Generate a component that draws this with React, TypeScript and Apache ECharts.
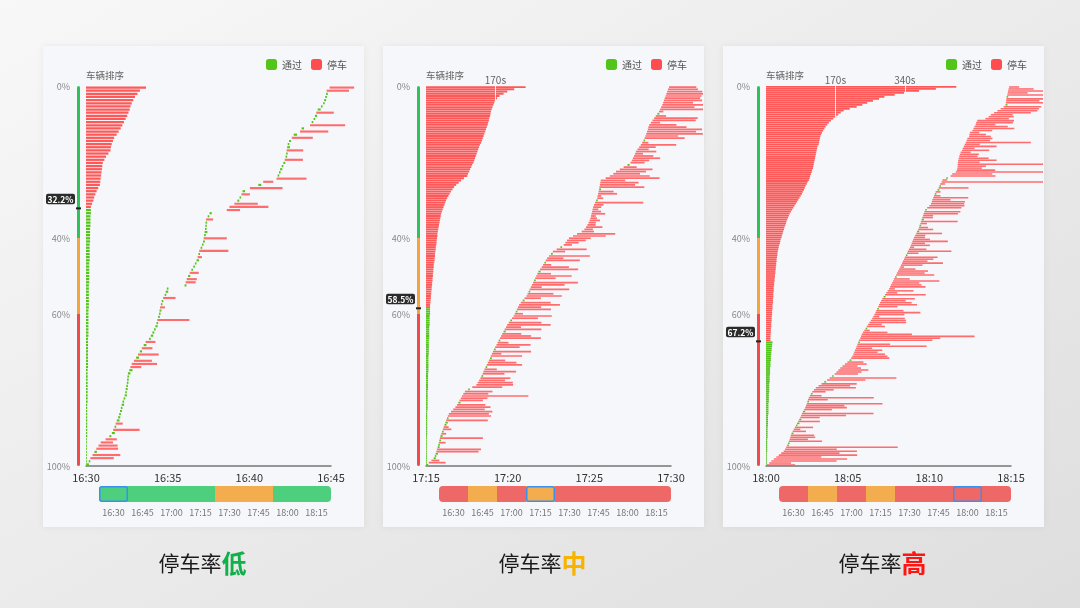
import React, { useEffect, useRef } from "react";
import * as echarts from "echarts";

const GREEN = "#52c41a";
const RED = "#ff4d4f";
const LEFT_RED = "#ff5858";
const LEVEL_COLORS = ["#4dcf7e", "#f3ad4e", "#ef6868"];
const SCALE_COLORS = ["#2fc25b", "#f5a33b", "#f04a4a"];
const FONT = '"Noto Sans CJK SC", "Noto Sans", sans-serif';

const slotLabels = ["16:30", "16:45", "17:00", "17:15", "17:30", "17:45", "18:00", "18:15"];
const pctTicks = [0, 40, 60, 100];
const scaleBands = [[0, 40], [40, 60], [60, 100]];
const titleWords = ["低", "中", "高"];
const titleColors = ["#10b04a", "#f6b400", "#ff1414"];
const rateValues = [32.2, 58.5, 67.2];
const rateLabels = ["32.2%", "58.5%", "67.2%"];

// ---------- Panel 1 (low) ----------
const p1Ticks = ["16:30", "16:35", "16:40", "16:45"];
const p1Arrive = [3,10,16,24,31,38,46,54,72,86,
  95,100,105,109,113,118,122,125,128,131,
  134,138,142,144,146,148,150,151,152,154,
  159,163,168,176,184,191,198,205,212,219,
  232,238,244,250,255,259,262,265,268,270,
  272,275,278,283,289,293,297,
  362,366,370,375,381,387,394,400,406,410,
  413,416,421,426,430,432,434,436,437,438,
  439,441,447,454,
  517,527,545,556,564,571,575,602,633,651,
  700,704,709,713,719,725,730,733,735,737,
  739,741,746,756,763,786,792,823,829,836,
  841,846,851,863,871,875,879,882,884,895];
const p1Delay = [8,5,86,102,9,80,70,45,41,7,
  11,97,6,26,10,8,5,7,4,9,
  6,3,8,5,7,4,6,3,5,9,
  12,40,93,66,11,76,8,39,10,36,
  6,9,7,5,8,4,118,6,3,7,
  18,5,6,46,4,9,5,
  7,37,37,8,33,6,4,5,9,16,
  3,107,6,4,7,85,5,10,3,4,
  6,26,5,8,
  49,143,86,7,5,31,9,120,11,37,
  110,6,4,8,5,7,67,3,6,61,
  10,4,7,77,12,104,9,129,5,6,
  8,64,11,5,4,7,3,6,82,90];
const p1Stop = [0,0,1,1,0,1,1,1,1,0,
  0,1,0,1,0,0,0,0,0,0,
  0,0,0,0,0,0,0,0,0,0,
  0,1,1,1,0,1,0,1,0,1,
  0,0,0,0,0,0,1,0,0,0,
  1,0,0,1,0,0,0,
  0,1,1,0,1,0,0,0,0,1,
  0,1,0,0,0,1,0,0,0,0,
  0,1,0,0,
  1,1,1,0,0,1,0,1,0,1,
  1,0,0,0,0,0,1,0,0,1,
  0,0,0,1,0,1,0,1,0,0,
  0,1,0,0,0,0,0,0,1,1];
const p1LeftStop = [147,132,126,120,116,112,109,107,104,101,
  97,93,89,85,80,75,69,66,63,61,
  60,55,49,45,41,40,39,38,37,36,
  35,34,30,26,23,20,18,15,12];
const p1LeftPass = [12,12,11,11,11,11,10,10,10,10,
  10,9,9,9,9,9,9,8,8,8,
  8,8,8,8,7,7,7,7,7,7,
  7,7,6,6,6,6,6,6,6,6,
  6,5,5,5,5,5,5,5,5,5,
  5,4,4,4,4,4,4,4,4,4,
  4,4,3,3,3,3,3,3,3,3,
  3,3,3,2,2,2,2,2,2,2,
  2,2];
const p1Marks: number[] = [];
const p1Levels = [0, 0, 0, 0, 1, 1, 0, 0];
const p1Window = 0;

// ---------- Panel 2 (mid) ----------
const p2Ticks = ["17:15", "17:20", "17:25", "17:30"];
const p2Arrive = [2,10,20,28,32,35,38,40,43,45,
  47,49,51,53,56,59,62,65,68,71,
  74,77,80,84,92,100,108,114,119,123,
  128,132,137,143,155,170,185,190,195,200,
  204,208,211,215,219,223,227,231,235,238,
  242,246,250,254,259,263,267,272,276,280,
  285,289,294,298,304,310,316,322,326,330,
  334,338,342,348,355,362,369,373,377,381,
  385,389,393,397,401,405,409,413,419,425,
  430,435,440,445,452,459,466,480,494,506,
  512,518,525,540,555,572,582,588,593,597,
  601,604,606,608,610,612,614,617,621,625,
  629,630,632,634,636,637,639,640,642,660,
  675,688,698,712,726,740,751,756,760,764,
  768,771,777,783,789,794,799,803,806,809,
  812,815,817,820,826,832,838,844,850,856,
  860,864,868,871,874,877,880,883,886,889,
  893];
const p2Delay = [6,62,29,8,5,9,155,162,7,4,
  25,6,158,8,18,5,31,18,7,9,
  153,6,159,147,152,116,129,104,8,86,
  98,244,92,101,5,110,135,129,95,110,
  6,80,120,45,5,130,105,60,7,115,
  35,140,6,90,125,40,5,150,110,70,
  8,135,55,160,120,6,95,140,30,5,
  125,85,150,110,7,60,130,95,4,145,
  40,120,165,6,75,130,50,8,140,100,
  30,5,125,60,150,7,45,110,6,30,
  49,69,80,120,140,45,31,60,30,27,
  38,24,18,50,33,21,30,35,177,6,
  22,14,70,55,7,165,129,141,90,198,
  147,98,110,120,48,8,52,64,100,71,
  29,75,41,61,130,23,6,147,120,208,
  180,199,140,100,34,159,160,38,7,16,
  159,122,150,110,140,130,132,150,129,110,
  100];
const p2Stop = [0,1,1,0,0,0,1,1,0,0,
  1,0,1,0,1,0,1,1,0,0,
  1,0,1,1,1,1,1,1,0,1,
  1,1,1,1,0,1,1,1,1,1,
  0,1,1,1,0,1,1,1,0,1,
  1,1,0,1,1,1,0,1,1,1,
  0,1,1,1,1,0,1,1,1,0,
  1,1,1,1,0,1,1,1,0,1,
  1,1,1,0,1,1,1,0,1,1,
  1,0,1,1,1,0,1,1,0,1,
  1,1,1,1,1,1,1,1,1,1,
  1,1,1,1,1,1,1,1,1,0,
  1,1,1,1,0,1,1,1,1,1,
  1,1,1,1,1,0,1,1,1,1,
  1,1,1,1,1,1,0,1,1,1,
  1,1,1,1,1,1,1,1,0,1,
  1,1,1,1,1,1,1,1,1,1,
  1];
const p2LeftStop = [244,216,199,190,180,174,170,167,165,163,
  161,159,158,157,155,154,152,151,149,147,
  145,143,141,139,137,135,132,130,128,126,
  124,122,120,118,116,113,111,108,106,103,
  101,93,86,80,74,69,65,61,58,55,
  52,49,47,45,43,41,39,37,36,35,
  34,33,32,31,30,29,28,28,27,26,
  26,25,24,24,23,22,22,21,21,20,
  19,19,18,18,17,17,16,16,15,15,
  14,14,13,13,12,12,11,11,10,10];
const p2LeftPass = [10,10,10,9,9,9,9,9,8,8,
  8,8,8,8,7,7,7,7,7,7,
  7,6,6,6,6,6,6,6,6,5,
  5,5,5,5,5,5,5,4,4,4,
  4,4,4,4,4,4,3,3,3,3,
  3,3,3,3,3,3,3,2,2,2,
  2,2,2,2,2,2,2,2,2,1,
  1];
const p2Marks = [170];
const p2Levels = [2, 1, 2, 1, 2, 2, 2, 2];
const p2Window = 3;

// ---------- Panel 3 (high) ----------
const p3Ticks = ["18:00", "18:05", "18:10", "18:15"];
const p3Arrive = [3,12,20,29,38,47,56,65,70,74,
  78,81,84,87,89,91,94,98,102,106,
  110,114,118,122,126,129,132,136,140,144,
  147,150,152,154,157,161,165,170,176,183,
  193,204,214,224,234,243,252,259,266,273,
  281,290,299,307,313,317,321,324,327,330,
  333,336,339,342,346,349,352,356,361,366,
  370,375,380,385,390,394,398,402,405,409,
  412,415,419,423,427,432,437,442,447,452,
  456,459,463,467,470,474,478,481,485,489,
  493,496,500,503,507,510,514,518,521,525,
  529,532,535,538,541,544,548,552,555,559,
  562,564,567,569,572,574,577,579,582,585,
  592,600,606,609,611,614,617,620,623,630,
  634,637,640,645,648,662,678,684,697,701,
  703,704,704,705,706,708,710,712,715,720,
  723,727,730,734,737,740,746,747,749,758,
  762,766,770,772,776,806,818,826,838,850,
  862,873,880,881,882,883,884,886,888,889,
  891,893];
const p3Delay = [104,80,239,269,165,288,214,269,190,410,
  6,5,122,67,92,86,7,49,24,67,
  5,9,80,8,71,165,263,8,102,153,
  141,278,6,73,239,43,6,49,73,147,
  116,129,7,141,245,5,86,92,110,76,
  55,80,59,7,140,129,116,86,100,60,
  257,120,5,269,294,417,184,90,20,6,
  67,50,135,129,120,22,110,165,100,5,
  71,140,116,90,120,7,150,40,95,21,
  130,112,100,170,58,6,140,102,110,60,
  14,79,150,90,108,120,5,42,160,64,
  15,70,49,130,61,40,37,95,8,55,
  33,6,24,135,8,39,37,126,132,5,
  126,129,122,122,67,129,24,6,18,7,
  110,5,18,400,18,6,165,147,340,141,
  90,104,340,80,141,110,67,70,37,100,
  43,120,55,239,86,92,80,61,34,73,
  150,122,73,135,135,86,92,80,135,147,
  141,138,7,160,122,170,4,150,73,140,
  92,37];
const p3Stop = [1,1,1,1,1,1,1,1,1,1,
  0,0,1,1,1,1,0,1,1,1,
  0,0,1,0,1,1,1,0,1,1,
  1,1,0,1,1,1,0,1,1,1,
  1,1,0,1,1,0,1,1,1,1,
  1,1,1,0,1,1,1,1,1,1,
  1,1,0,1,1,1,1,1,1,0,
  1,1,1,1,1,1,1,1,1,0,
  1,1,1,1,1,0,1,1,1,1,
  1,1,1,1,1,0,1,1,1,1,
  1,1,1,1,1,1,0,1,1,1,
  1,1,1,1,1,1,1,1,0,1,
  1,0,1,1,0,1,1,1,1,0,
  1,1,1,1,1,1,1,0,1,0,
  1,0,1,1,1,0,1,1,1,1,
  1,1,1,1,1,1,1,1,1,1,
  1,1,1,1,1,1,1,1,1,1,
  1,1,1,1,1,1,1,1,1,1,
  1,1,0,1,1,1,0,1,1,1,
  1,1];
const p3LeftStop = [466,416,375,338,315,290,277,262,248,236,
  222,205,190,183,177,172,165,159,154,150,
  146,143,140,137,135,133,132,131,130,129,
  126,125,124,123,122,121,120,119,118,117,
  116,115,113,112,110,108,107,105,102,100,
  97,95,93,90,88,85,82,79,76,73,
  70,67,64,61,58,56,54,52,50,49,
  47,45,44,42,41,39,38,36,35,34,
  32,31,30,29,28,28,27,26,26,25,
  25,24,24,23,23,22,22,21,21,20,
  20,19,19,19,18,18,18,17,17,17,
  16,16,16,15,15,15,14,14,14,13,
  13,13,12,12,12,11,11,11,11];
const p3LeftPass = [16,15,15,14,14,13,13,12,12,12,
  11,11,11,10,10,10,10,9,9,9,
  9,8,8,8,8,8,7,7,7,7,
  7,6,6,6,6,6,6,5,5,5,
  5,5,5,4,4,4,4,4,4,3,
  3,3,3,3,3,3,2,2,2,2,
  2,2,2];
const p3Marks = [170, 340];
const p3Levels = [2, 1, 2, 1, 2, 2, 2, 2];
const p3Window = 6;

const panels = [
  { ticks: p1Ticks, arrive: p1Arrive, delay: p1Delay, stop: p1Stop, left: p1LeftStop, pass: p1LeftPass, marks: p1Marks, levels: p1Levels, win: p1Window },
  { ticks: p2Ticks, arrive: p2Arrive, delay: p2Delay, stop: p2Stop, left: p2LeftStop, pass: p2LeftPass, marks: p2Marks, levels: p2Levels, win: p2Window },
  { ticks: p3Ticks, arrive: p3Arrive, delay: p3Delay, stop: p3Stop, left: p3LeftStop, pass: p3LeftPass, marks: p3Marks, levels: p3Levels, win: p3Window },
];

function barRender(color: string, opacity: number, clipRight: number, hFrac: number, minW: number) {
  return (params: any, api: any) => {
    const a = api.value(0), b = api.value(1), y = api.value(2), band = api.value(3);
    const p0 = api.coord([a, y]);
    const p1 = api.coord([b, y]);
    const h = Math.abs(api.size([0, band])[1]) * hFrac;
    const x1 = Math.min(p1[0], clipRight);
    const w = Math.max(x1 - p0[0], minW);
    return {
      type: "rect",
      shape: { x: p0[0], y: p0[1] - h / 2, width: w, height: h },
      style: { fill: color, opacity },
    };
  };
}

function buildOption() {
  const grid: any[] = [], xAxis: any[] = [], yAxis: any[] = [], series: any[] = [], legend: any[] = [];
  const graphic: any[] = [
    {
      type: "rect", z: -20, silent: true,
      shape: { x: 0, y: 0, width: 1080, height: 608 },
      style: { fill: new echarts.graphic.LinearGradient(0, 0, 1, 1, [
        { offset: 0, color: "#f8f8f8" }, { offset: 1, color: "#dedede" }]) },
    },
  ];

  panels.forEach((p, k) => {
    const ox = k * 340;
    const cardRight = 43 + ox + 321;
    graphic.push({
      type: "rect", z: -10, silent: true,
      shape: { x: 43 + ox, y: 46, width: 321, height: 481 },
      style: { fill: "#f6f7fa", shadowBlur: 6, shadowColor: "rgba(0,0,0,0.06)" },
    });
    graphic.push({
      type: "text", z: 10, silent: true, x: 86 + ox, y: 74.5,
      style: { text: "车辆排序", fill: "#666", fontSize: 9.5, fontFamily: FONT, verticalAlign: "middle", align: "left" },
    });
    graphic.push({
      type: "text", z: 10, silent: true, x: 202.5 + ox, y: 562,
      style: {
        text: `{a|停车率}{b|${titleWords[k]}}`,
        align: "center", verticalAlign: "middle",
        rich: {
          a: { fontSize: 21, fill: "#1a1a1a", color: "#1a1a1a", fontFamily: FONT },
          b: { fontSize: 25, fontWeight: "bold", fill: titleColors[k], color: titleColors[k], fontFamily: FONT },
        },
      },
    });

    const NL = p.left.length + p.pass.length;
    const N = p.arrive.length;
    const pitch = 380 / NL;
    const leftFrac = pitch > 2.5 ? 0.72 : 0.88;
    const rightFrac = 380 / N > 2.5 ? 0.68 : 0.78;
    const leftRed = p.left.map((v, r) => [0, v, ((r + 0.5) * 100) / NL, 100 / NL]);
    const leftGreen = p.pass.map((v, i) => [0, v, ((p.left.length + i + 0.5) * 100) / NL, 100 / NL]);
    const rightRed: number[][] = [], rightGreen: number[][] = [];
    p.arrive.forEach((t, j) => {
      const item = [t, t + p.delay[j], j + 0.5, 1];
      (p.stop[j] ? rightRed : rightGreen).push(item);
    });
    const markData = p.marks.map((v) => {
      const cnt = p.left.filter((d) => d >= v).length;
      return [{ coord: [v, 0], name: v + "s" }, { coord: [v, (cnt * 100) / NL] }];
    });

    const g0 = grid.length;
    grid.push({ left: 86 + ox, top: 86, width: 245, height: 380 });
    grid.push({ left: 86 + ox, top: 86, width: 245, height: 380 });
    grid.push({ left: 99 + ox, top: 486, width: 232, height: 16 });

    xAxis.push({ gridIndex: g0, type: "value", min: 0, max: 600, show: false });
    yAxis.push({
      gridIndex: g0, type: "value", min: 0, max: 100, interval: 20, inverse: true,
      axisLine: { show: false }, axisTick: { show: false }, splitLine: { show: false },
      axisLabel: {
        formatter: (v: number) => (pctTicks.includes(v) ? v + "%" : ""),
        fontSize: 9, color: "#888", margin: 16, fontFamily: FONT,
      },
    });
    xAxis.push({
      gridIndex: g0 + 1, type: "value", min: 0, max: 900, interval: 300,
      axisLine: { show: true, lineStyle: { color: "#777", width: 1.5 } },
      axisTick: { show: false }, splitLine: { show: false },
      axisLabel: {
        formatter: (v: number) => p.ticks[Math.round(v / 300)],
        fontSize: 11, color: "#333", margin: 5, showMinLabel: true, showMaxLabel: true, fontFamily: FONT,
      },
    });
    yAxis.push({ gridIndex: g0 + 1, type: "value", min: 0, max: N, show: false });
    xAxis.push({
      gridIndex: g0 + 2, type: "category", data: slotLabels,
      axisLine: { show: false }, axisTick: { show: false },
      axisLabel: { fontSize: 9, color: "#777", margin: 6, interval: 0, fontFamily: FONT },
    });
    yAxis.push({ gridIndex: g0 + 2, type: "value", min: 0, max: 1, show: false });

    // left sorted bars
    series.push({
      type: "custom", name: "停车", xAxisIndex: g0, yAxisIndex: g0, silent: true, clip: false,
      itemStyle: { color: RED }, encode: { x: [0, 1], y: 2 },
      renderItem: barRender(LEFT_RED, 1, 2000, leftFrac, 1),
      data: leftRed,
      markLine: markData.length
        ? {
            silent: true, symbol: ["none", "none"],
            lineStyle: { color: "rgba(255,255,255,0.85)", width: 1, type: "solid" },
            label: { show: true, position: "start", formatter: "{b}", color: "#666", fontSize: 10, distance: 2, fontFamily: FONT },
            data: markData,
          }
        : undefined,
    });
    series.push({
      type: "custom", name: "通过", xAxisIndex: g0, yAxisIndex: g0, silent: true, clip: false,
      itemStyle: { color: GREEN }, encode: { x: [0, 1], y: 2 },
      renderItem: barRender(GREEN, 1, 2000, leftFrac, 0.8),
      data: leftGreen,
    });
    // right timeline bars
    series.push({
      type: "custom", name: "停车", xAxisIndex: g0 + 1, yAxisIndex: g0 + 1, silent: true, clip: false,
      itemStyle: { color: RED }, encode: { x: [0, 1], y: 2 },
      renderItem: barRender(RED, 0.82, cardRight - 1, rightFrac, 1),
      data: rightRed,
    });
    series.push({
      type: "custom", name: "通过", xAxisIndex: g0 + 1, yAxisIndex: g0 + 1, silent: true, clip: false,
      itemStyle: { color: GREEN }, encode: { x: [0, 1], y: 2 },
      renderItem: barRender(GREEN, 1, cardRight - 1, rightFrac, 1.6),
      data: rightGreen,
    });
    // status scale
    series.push({
      type: "custom", xAxisIndex: g0, yAxisIndex: g0, silent: true, clip: false,
      encode: { x: 0, y: [1, 2] },
      data: scaleBands.map((b, i) => [0, b[0], b[1], i]),
      renderItem: (params: any, api: any) => {
        const i = api.value(3);
        const c0 = api.coord([0, api.value(1)]);
        const c1 = api.coord([0, api.value(2)]);
        const r = i === 0 ? [1.5, 1.5, 0, 0] : i === 2 ? [0, 0, 1.5, 1.5] : 0;
        return {
          type: "rect",
          shape: { x: c0[0] - 9, y: c0[1], width: 3, height: c1[1] - c0[1], r },
          style: { fill: SCALE_COLORS[i] },
        };
      },
    });
    // rate marker
    series.push({
      type: "custom", xAxisIndex: g0, yAxisIndex: g0, silent: true, clip: false, z: 5,
      encode: { x: 0, y: 1 },
      data: [[0, rateValues[k]]],
      renderItem: (params: any, api: any) => {
        const c = api.coord([0, api.value(1)]);
        return {
          type: "group",
          children: [
            { type: "rect", shape: { x: c[0] - 10, y: c[1] - 1, width: 5, height: 2 }, style: { fill: "#222" } },
            { type: "rect", shape: { x: c[0] - 40, y: c[1] - 14.5, width: 29, height: 10.5, r: 2 }, style: { fill: "#2b2b2b" } },
            {
              type: "text",
              style: {
                text: rateLabels[k], x: c[0] - 25.5, y: c[1] - 9.2, fill: "#fff",
                fontSize: 8.5, fontWeight: "bold", fontFamily: FONT, align: "center", verticalAlign: "middle",
              },
            },
          ],
        };
      },
    });
    // time slot strip
    series.push({
      type: "bar", xAxisIndex: g0 + 2, yAxisIndex: g0 + 2, silent: true, barWidth: "100%", barGap: "-100%",
      data: p.levels.map((lv, i) => ({
        value: 1,
        itemStyle: {
          color: LEVEL_COLORS[lv],
          borderRadius: i === 0 ? [4, 0, 0, 4] : i === p.levels.length - 1 ? [0, 4, 4, 0] : 0,
        },
      })),
    });
    series.push({
      type: "bar", xAxisIndex: g0 + 2, yAxisIndex: g0 + 2, silent: true, barWidth: "100%", barGap: "-100%", z: 3,
      itemStyle: { color: "rgba(0,0,0,0)", borderColor: "#3b8ff0", borderWidth: 1.5, borderRadius: 2 },
      data: p.levels.map((_, i) => (i === p.win ? 1 : "-")),
    });

    legend.push({
      left: 266 + ox, top: 59, itemWidth: 11, itemHeight: 11, itemGap: 9, padding: 0,
      icon: "roundRect", selectedMode: false, data: ["通过", "停车"],
      textStyle: { fontSize: 10, color: "#555", fontFamily: FONT },
    });
  });

  return {
    animation: false,
    textStyle: { fontFamily: FONT },
    grid, xAxis, yAxis, series, legend, graphic,
  };
}

export default function App() {
  const ref = useRef<HTMLDivElement>(null);
  useEffect(() => {
    const chart = echarts.init(ref.current!, null, { renderer: "svg", width: 1080, height: 608 });
    chart.setOption(buildOption() as any);
    return () => chart.dispose();
  }, []);
  return <div ref={ref} style={{ position: "fixed", left: 0, top: 0, width: 1080, height: 608 }} />;
}
